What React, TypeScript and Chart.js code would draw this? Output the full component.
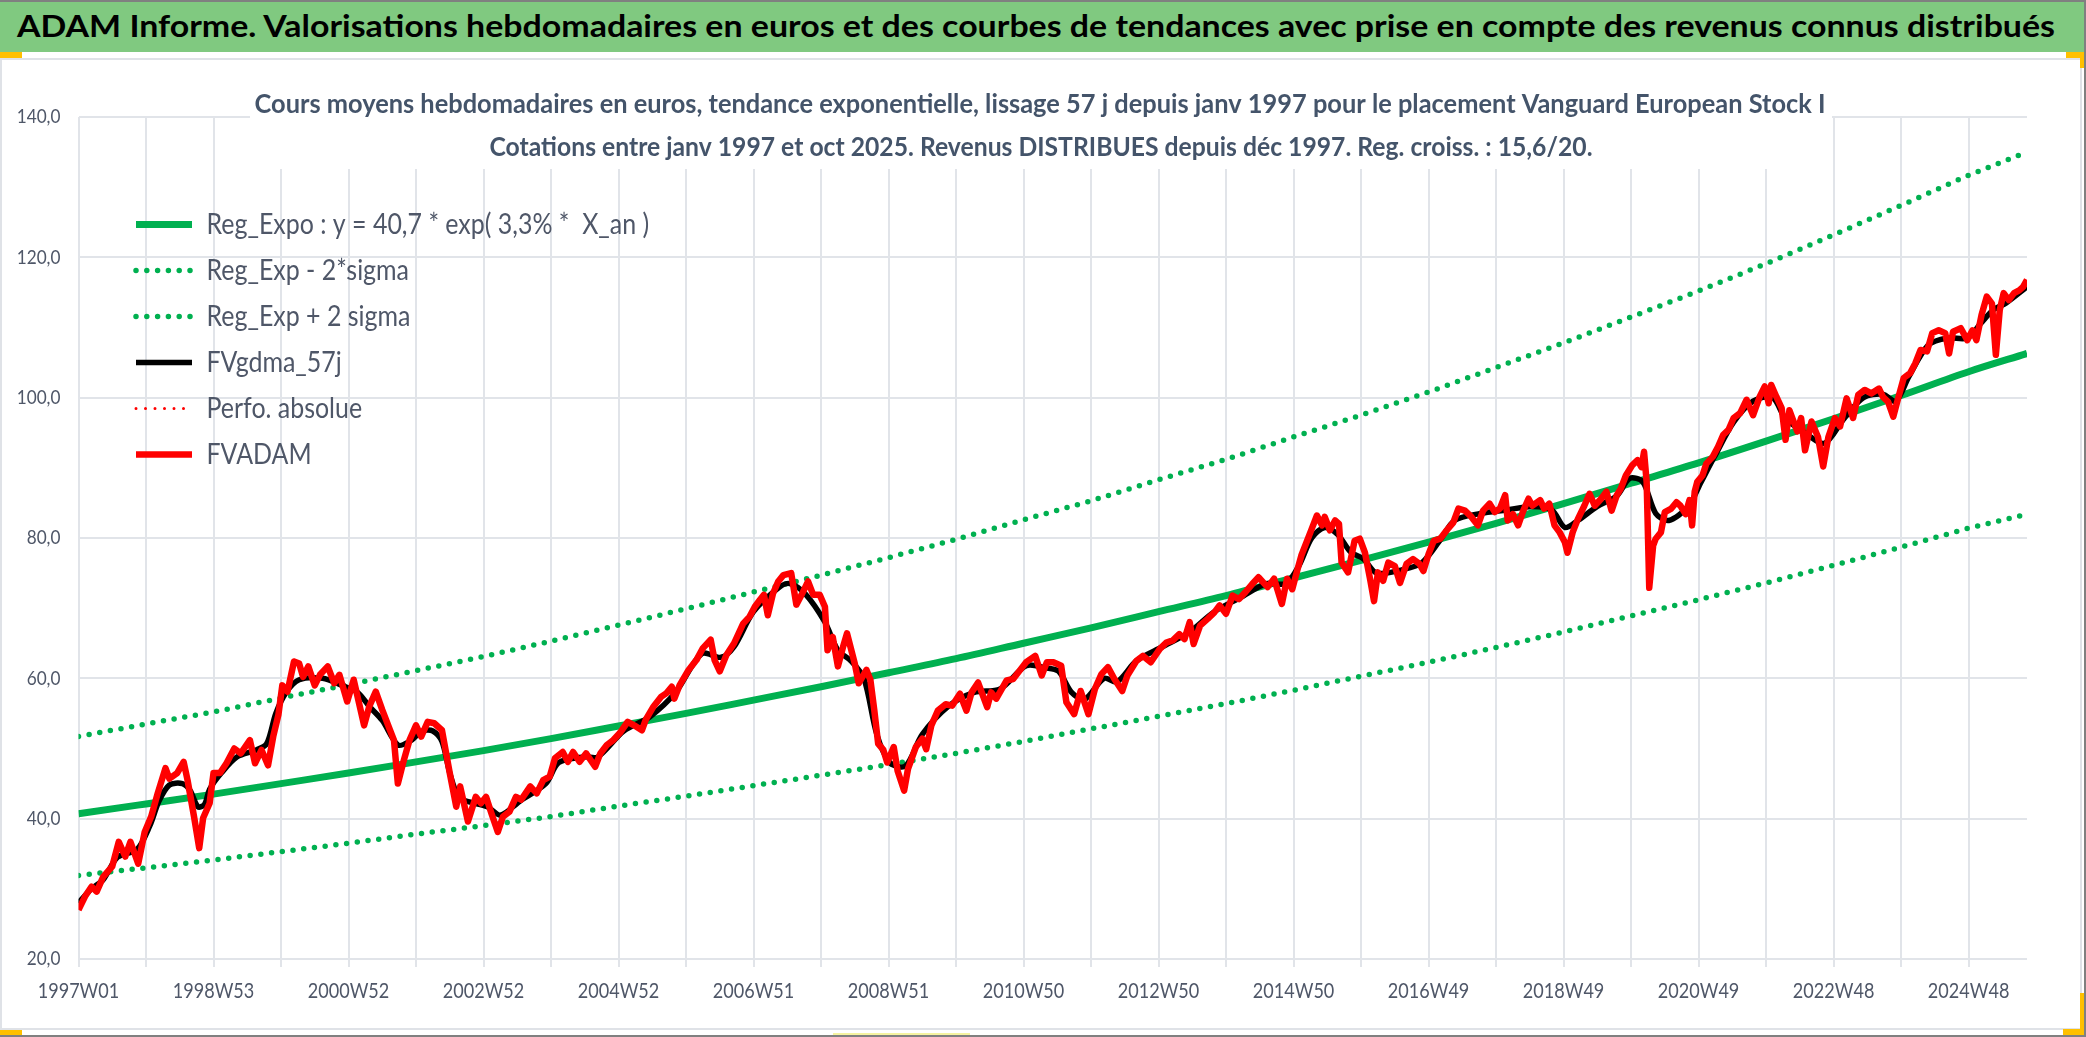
import React, { useEffect, useRef } from 'react';
import Chart from 'chart.js/auto';

const FONT = "Lato, 'Open Sans', sans-serif";
// the reference text is narrower than any installed face: every canvas text is squeezed horizontally
const SQUEEZE = 0.86;

const bannerTitle = 'ADAM Informe. Valorisations hebdomadaires en euros et des courbes de tendances avec prise en compte des revenus connus distribués';
const titleLines = [
    'Cours moyens hebdomadaires en euros, tendance exponentielle, lissage 57 j depuis janv 1997 pour le placement Vanguard European Stock I',
    'Cotations entre janv 1997 et oct 2025. Revenus DISTRIBUES depuis déc 1997. Reg. croiss. : 15,6/20.'
];

// one label every 104 weeks, starting at week index 0
const weekLabels = ['1997W01', '1998W53', '2000W52', '2002W52', '2004W52', '2006W51', '2008W51', '2010W50',
    '2012W50', '2014W50', '2016W49', '2018W49', '2020W49', '2022W48', '2024W48'];
const lastWeek = 1501;

const seriesNames = ['Reg_Expo : y = 40,7 * exp( 3,3% *  X_an )', 'Reg_Exp - 2*sigma', 'Reg_Exp + 2 sigma',
    'FVgdma_57j', 'Perfo. absolue', 'FVADAM'];

// trend curves read at each yearly gridline
const trendWeeks = [0, 52, 104, 156, 208, 260, 312, 364, 416, 468, 520, 572, 624, 676, 728, 780, 832, 884, 936, 988,
    1040, 1092, 1144, 1196, 1248, 1300, 1352, 1404, 1456, 1501];
const regExpo = [40.7, 42.1, 43.5, 45.0, 46.5, 48.1, 49.7, 51.4, 53.2, 55.0, 56.9, 58.8, 60.8, 62.8, 65.0, 67.2, 69.5,
    71.8, 74.3, 76.8, 79.4, 82.1, 84.9, 87.8, 90.7, 93.8, 97.0, 100.3, 103.7, 106.3];
const regMinus = [31.9, 33.0, 34.1, 35.3, 36.5, 37.8, 39.0, 40.3, 41.8, 43.2, 44.7, 46.2, 47.7, 49.3, 51.0, 52.8, 54.6,
    56.4, 58.3, 60.3, 62.3, 64.4, 66.6, 68.9, 71.2, 73.6, 76.1, 78.7, 81.4, 83.4];
const regPlus = [51.7, 53.5, 55.2, 57.2, 59.1, 61.1, 63.1, 65.3, 67.6, 69.9, 72.3, 74.7, 77.2, 79.8, 82.6, 85.3, 88.3,
    91.2, 94.4, 97.5, 100.8, 104.3, 107.8, 111.5, 115.2, 119.1, 123.2, 127.4, 131.7, 135.0];

// [week index, value]
const gdma: [number, number][] = [
    [0, 28.0], [10, 30.0], [19, 31.3], [30, 34.5], [45, 35.6], [55, 39.0], [62, 42.5], [70, 44.8], [80, 45.0], [86, 44.0],
    [92, 41.7], [97, 42.0], [101, 44.2], [110, 46.5], [122, 48.8], [137, 49.8], [145, 50.7], [152, 55.0], [160, 58.0],
    [170, 59.8], [188, 60.0], [203, 59.0], [215, 58.0], [224, 56.0], [234, 54.0], [246, 50.5], [255, 51.0], [265, 52.5],
    [273, 52.5], [280, 51.0], [286, 46.5], [293, 43.0], [301, 42.4], [315, 41.7], [325, 40.5], [340, 42.5], [360, 45.0],
    [370, 48.0], [390, 48.8], [400, 48.8], [420, 52.5], [440, 54.5], [460, 58.0], [480, 63.5], [495, 63.0], [505, 64.5],
    [520, 69.5], [540, 73.0], [548, 73.5], [560, 72.0], [575, 68.0], [585, 64.0], [595, 62.5], [605, 60.0], [615, 52.0],
    [625, 48.0], [637, 47.5], [650, 52.0], [670, 56.0], [690, 58.0], [710, 58.5], [730, 61.8], [745, 61.5], [755, 61.0],
    [765, 58.0], [775, 57.0], [790, 60.0], [800, 59.5], [815, 62.5], [835, 64.5], [855, 66.5], [875, 69.5], [895, 71.5],
    [915, 73.5], [930, 73.5], [940, 76.0], [950, 80.0], [960, 81.5], [970, 80.5], [980, 78.0], [990, 77.0], [1000, 75.0],
    [1020, 75.5], [1035, 76.5], [1050, 80.0], [1060, 82.5], [1080, 83.5], [1100, 84.0], [1120, 84.5], [1135, 84.0],
    [1145, 81.5], [1155, 82.5], [1170, 84.5], [1185, 86.0], [1195, 88.5], [1205, 88.0], [1215, 83.5], [1225, 82.5],
    [1240, 84.5], [1250, 88.0], [1260, 91.5], [1275, 96.5], [1290, 99.5], [1305, 100.0], [1315, 97.0], [1330, 95.0],
    [1345, 93.5], [1360, 97.0], [1375, 100.0], [1390, 100.5], [1400, 99.5], [1410, 103.0], [1425, 107.5], [1440, 108.5],
    [1455, 108.5], [1465, 110.5], [1475, 112.5], [1485, 113.5], [1501, 115.8]
];

const fvadam: [number, number][] = [
    [0, 27.0], [5, 28.9], [10, 30.3], [14, 29.6], [19, 31.7], [26, 33.2], [31, 36.7], [36, 34.6], [40, 36.7], [46, 33.6],
    [51, 38.1], [56, 40.3], [61, 43.6], [67, 47.2], [70, 45.7], [76, 46.5], [81, 48.1], [84, 45.5], [89, 40.3], [93, 35.8],
    [96, 40.1], [101, 42.2], [104, 46.5], [109, 46.5], [114, 47.9], [120, 50.0], [125, 49.3], [132, 51.2], [136, 47.9],
    [141, 49.8], [146, 47.6], [150, 51.7], [154, 54.8], [157, 59.0], [161, 58.1], [166, 62.4], [170, 62.1], [173, 60.2],
    [177, 61.7], [182, 59.0], [186, 60.5], [192, 61.7], [197, 59.3], [201, 60.5], [207, 56.7], [212, 59.8], [220, 53.3],
    [224, 56.0], [229, 58.1], [234, 55.5], [240, 52.6], [243, 51.2], [246, 45.0], [250, 47.9], [255, 51.2], [260, 53.3],
    [264, 51.7], [269, 53.8], [274, 53.6], [280, 52.6], [286, 46.5], [291, 41.7], [294, 44.6], [300, 39.6], [306, 43.1],
    [310, 42.2], [314, 43.1], [318, 40.8], [323, 38.1], [327, 40.3], [332, 41.0], [337, 43.1], [341, 42.7], [348, 44.6],
    [353, 43.6], [358, 45.5], [363, 46.0], [367, 48.6], [373, 49.5], [377, 48.1], [381, 49.5], [386, 48.1], [391, 49.3],
    [398, 47.4], [402, 49.3], [407, 50.5], [412, 51.2], [417, 52.2], [423, 53.8], [428, 53.3], [434, 52.6], [437, 54.1],
    [443, 56.0], [449, 57.4], [453, 57.9], [457, 58.8], [459, 57.1], [463, 59.0], [470, 61.2], [476, 62.6], [481, 64.3],
    [487, 65.5], [490, 62.6], [494, 61.0], [499, 63.3], [505, 65.0], [512, 67.8], [517, 68.8], [521, 70.2], [525, 71.2],
    [528, 71.9], [531, 69.0], [535, 72.1], [539, 73.8], [543, 74.7], [549, 75.0], [553, 70.5], [557, 71.9], [562, 73.8],
    [566, 71.9], [571, 71.9], [575, 70.2], [577, 64.0], [581, 65.9], [585, 61.7], [589, 64.5], [592, 66.4], [598, 62.1],
    [601, 59.3], [607, 61.2], [610, 59.8], [613, 55.5], [616, 50.7], [620, 49.8], [623, 48.0], [628, 50.2], [631, 46.8],
    [636, 44.0], [639, 47.1], [645, 50.2], [650, 51.4], [653, 49.9], [657, 53.3], [662, 55.4], [668, 56.3], [673, 56.1],
    [679, 57.8], [684, 55.4], [688, 58.0], [693, 59.4], [700, 55.9], [703, 58.0], [707, 57.1], [715, 59.7], [720, 59.9],
    [725, 61.1], [730, 62.3], [737, 63.2], [742, 60.4], [746, 62.3], [751, 62.3], [757, 61.8], [761, 56.6], [767, 54.9],
    [772, 58.2], [778, 54.9], [783, 58.5], [788, 60.6], [793, 61.6], [798, 59.9], [804, 58.2], [808, 60.4], [815, 62.5],
    [820, 63.2], [826, 62.3], [833, 64.2], [838, 65.1], [843, 65.4], [848, 66.3], [852, 65.6], [856, 68.0], [859, 64.9],
    [864, 67.5], [870, 68.5], [875, 69.4], [879, 70.4], [884, 69.2], [889, 71.8], [894, 71.3], [899, 72.3], [904, 73.4],
    [909, 74.4], [916, 73.0], [921, 74.2], [927, 70.6], [931, 74.2], [935, 72.7], [939, 75.5], [942, 77.5], [946, 79.4],
    [950, 81.3], [954, 83.2], [958, 81.8], [960, 83.0], [964, 81.1], [968, 82.5], [971, 82.0], [973, 76.5], [978, 75.1],
    [983, 79.6], [987, 79.9], [991, 77.9], [995, 74.1], [998, 71.0], [1001, 75.1], [1005, 73.9], [1009, 76.5], [1014, 76.0],
    [1018, 73.6], [1023, 76.3], [1028, 77.0], [1033, 76.3], [1036, 75.3], [1040, 77.7], [1044, 79.6], [1049, 79.9],
    [1054, 81.1], [1059, 82.2], [1063, 84.2], [1068, 83.9], [1073, 83.0], [1078, 81.8], [1082, 83.9], [1087, 84.9],
    [1091, 83.7], [1095, 84.2], [1099, 86.1], [1101, 82.5], [1105, 83.4], [1109, 81.8], [1113, 83.9], [1117, 85.6],
    [1120, 84.6], [1126, 85.4], [1129, 84.2], [1133, 84.9], [1137, 81.8], [1141, 80.8], [1145, 79.4], [1147, 77.9],
    [1151, 80.8], [1155, 82.7], [1160, 84.6], [1164, 86.3], [1168, 84.6], [1173, 85.6], [1177, 86.6], [1181, 83.9],
    [1185, 86.1], [1188, 87.0], [1192, 88.9], [1197, 90.4], [1201, 91.1], [1204, 90.1], [1206, 92.3], [1208, 88.0],
    [1210, 72.9], [1213, 78.9], [1215, 79.9], [1219, 80.8], [1222, 83.7], [1227, 84.2], [1231, 85.1], [1234, 84.6],
    [1238, 83.4], [1241, 85.4], [1243, 81.8], [1245, 86.6], [1247, 88.0], [1251, 88.9], [1254, 90.6], [1259, 91.6],
    [1263, 93.0], [1267, 94.7], [1271, 95.4], [1275, 97.1], [1280, 97.8], [1285, 99.7], [1290, 97.5], [1295, 100.1],
    [1299, 101.6], [1302, 99.2], [1304, 101.8], [1308, 100.1], [1312, 98.5], [1315, 94.0], [1318, 98.2], [1324, 95.2],
    [1327, 97.1], [1330, 92.5], [1335, 96.6], [1340, 94.4], [1344, 90.2], [1348, 94.4], [1353, 97.1], [1357, 95.9],
    [1362, 99.9], [1367, 97.1], [1371, 100.4], [1376, 101.1], [1381, 100.6], [1387, 101.3], [1390, 100.1], [1394, 99.4],
    [1398, 97.3], [1402, 100.1], [1406, 102.8], [1411, 103.5], [1415, 104.9], [1419, 106.8], [1424, 106.6], [1428, 109.2],
    [1433, 109.6], [1438, 109.2], [1441, 106.3], [1444, 109.4], [1450, 109.9], [1455, 108.2], [1459, 109.6], [1462, 108.2],
    [1466, 111.8], [1470, 114.4], [1474, 113.4], [1477, 106.1], [1480, 112.5], [1483, 114.9], [1487, 113.9], [1491, 114.9],
    [1495, 115.3], [1498, 115.8], [1501, 116.8]
];

const TEXT_COLOR = '#4f5768';
const GRID_COLOR = '#e1e4e9';

// chart title sits in a white box that covers the top of the plot grid
const boxTitle = {
    id: 'boxTitle',
    beforeDatasetsDraw(chart: Chart) {
        const ctx = chart.ctx;
        const lines = [
            { text: titleLines[0], x: 1040, y: 53, width: 1571 },
            { text: titleLines[1], x: 1041, y: 96, width: 1103 }
        ];
        ctx.save();
        ctx.fillStyle = '#ffffff';
        ctx.fillRect(250, 24, 1582, 85);
        ctx.fillStyle = '#44546A';
        ctx.textAlign = 'center';
        ctx.textBaseline = 'alphabetic';
        ctx.font = `bold 27px ${FONT}`;
        lines.forEach(line => {
            const w = ctx.measureText(line.text).width;
            ctx.save();
            ctx.translate(line.x, line.y);
            // fillText squeezes again, so divide it out
            ctx.scale(line.width / (w * SQUEEZE), 1);
            ctx.fillText(line.text, 0, 0);
            ctx.restore();
        });
        ctx.restore();
    }
};

// the legend is inside the plot, move it to its place
const legendPlace = {
    id: 'legendPlace',
    afterLayout(chart: Chart) {
        if (chart.legend) {
            chart.legend.left = 119;
            chart.legend.top = 133;
        }
    }
};

const App: React.FC = () => {
    const canvasRef = useRef<HTMLCanvasElement>(null);
    const bannerRef = useRef<HTMLSpanElement>(null);
    const chartRef = useRef<Chart>();

    useEffect(() => {
        document.body.style.margin = '0';

        if (bannerRef.current) {
            const w = bannerRef.current.getBoundingClientRect().width;
            bannerRef.current.style.transform = `scaleX(${2038 / w})`;
        }

        const canvas = canvasRef.current;
        if (!canvas) return;
        const ctx = canvas.getContext('2d');
        if (!ctx) return;

        if (chartRef.current) {
            chartRef.current.destroy();
        }

        // narrow every text drawn on this canvas
        const fill = ctx.fillText.bind(ctx);
        ctx.fillText = (text: string, x: number, y: number) => {
            ctx.save();
            ctx.translate(x, y);
            ctx.scale(SQUEEZE, 1);
            fill(text, 0, 0);
            ctx.restore();
        };

        Chart.defaults.font.family = FONT;

        const toPoints = (weeks: number[], values: number[]) => weeks.map((w, i) => ({ x: w, y: values[i] }));
        const pairs = (list: [number, number][]) => list.map(([x, y]) => ({ x, y }));

        chartRef.current = new Chart(ctx, {
            type: 'line',
            data: {
                datasets: [
                    {
                        label: seriesNames[0],
                        data: toPoints(trendWeeks, regExpo),
                        borderColor: '#00B050',
                        backgroundColor: '#00B050',
                        borderWidth: 7,
                        cubicInterpolationMode: 'monotone',
                        order: 6
                    },
                    {
                        label: seriesNames[1],
                        data: toPoints(trendWeeks, regMinus),
                        borderColor: '#00B050',
                        backgroundColor: '#00B050',
                        borderWidth: 5.5,
                        borderDash: [0, 10.8],
                        borderCapStyle: 'round',
                        order: 5
                    },
                    {
                        label: seriesNames[2],
                        data: toPoints(trendWeeks, regPlus),
                        borderColor: '#00B050',
                        backgroundColor: '#00B050',
                        borderWidth: 5.5,
                        borderDash: [0, 10.8],
                        borderCapStyle: 'round',
                        order: 4
                    },
                    {
                        label: seriesNames[3],
                        data: pairs(gdma),
                        borderColor: '#000000',
                        backgroundColor: '#000000',
                        borderWidth: 5.5,
                        tension: 0.3,
                        order: 3
                    },
                    {
                        label: seriesNames[4],
                        data: [],
                        borderColor: '#FF0000',
                        backgroundColor: '#FF0000',
                        borderWidth: 3,
                        borderDash: [0, 9.5],
                        borderCapStyle: 'round',
                        order: 2
                    },
                    {
                        label: seriesNames[5],
                        data: pairs(fvadam),
                        borderColor: '#FF0000',
                        backgroundColor: '#FF0000',
                        borderWidth: 6.5,
                        borderJoinStyle: 'round',
                        order: 1
                    }
                ]
            },
            options: {
                animation: false,
                responsive: false,
                events: [],
                elements: {
                    point: { radius: 0 }
                },
                layout: {
                    padding: { top: 57, right: 53, bottom: 0, left: 0 }
                },
                scales: {
                    x: {
                        type: 'linear',
                        min: 0,
                        max: lastWeek,
                        afterFit: (scale: any) => { scale.height = 69; },
                        grid: { color: GRID_COLOR, lineWidth: 2, tickLength: 8 },
                        border: { display: false },
                        ticks: {
                            stepSize: 52,
                            includeBounds: false,
                            autoSkip: false,
                            maxRotation: 0,
                            padding: 12,
                            color: TEXT_COLOR,
                            font: { family: FONT, size: 21 },
                            callback: (value: string | number) => {
                                const v = Number(value);
                                return v % 104 === 0 ? weekLabels[v / 104] : '';
                            }
                        }
                    },
                    y: {
                        min: 20,
                        max: 140,
                        afterFit: (scale: any) => { scale.width = 78.5; },
                        grid: { color: GRID_COLOR, lineWidth: 2, drawTicks: false },
                        border: { display: false },
                        ticks: {
                            stepSize: 20,
                            padding: 18,
                            color: TEXT_COLOR,
                            font: { family: FONT, size: 20 },
                            callback: (value: string | number) => Number(value).toFixed(1).replace('.', ',')
                        }
                    }
                },
                plugins: {
                    title: { display: false },
                    tooltip: { enabled: false },
                    legend: {
                        position: 'chartArea',
                        align: 'start',
                        labels: {
                            usePointStyle: true,
                            pointStyle: 'line',
                            pointStyleWidth: 56,
                            padding: 17,
                            color: TEXT_COLOR,
                            font: { family: FONT, size: 29 },
                            generateLabels: (chart: Chart) =>
                                Chart.defaults.plugins.legend.labels.generateLabels(chart).map((item: any) => {
                                    const ds: any = chart.data.datasets[item.datasetIndex];
                                    return {
                                        ...item,
                                        lineWidth: ds.borderWidth,
                                        lineDash: ds.borderDash || [],
                                        lineCap: ds.borderCapStyle || 'butt',
                                        strokeStyle: ds.borderColor
                                    };
                                }),
                            sort: (a: any, b: any) => a.datasetIndex - b.datasetIndex
                        }
                    }
                }
            } as any,
            plugins: [boxTitle, legendPlace]
        });

        return () => {
            if (chartRef.current) {
                chartRef.current.destroy();
            }
        };
    }, []);

    const yellow = '#FFC000';

    return (
        <div style={{ position: 'relative', width: 2086, height: 1037, background: '#ffffff', overflow: 'hidden', fontFamily: FONT }}>
            <div style={{ position: 'absolute', left: 0, top: 0, width: 2086, height: 52, background: '#80c980', borderTop: '2px solid #8c8c8c', boxSizing: 'border-box' }}>
                <span ref={bannerRef} style={{ position: 'absolute', left: 17, top: 1, fontSize: 31, lineHeight: '44px', fontWeight: 700, color: '#000000', whiteSpace: 'nowrap', transformOrigin: 'left center' }}>
                    {bannerTitle}
                </span>
            </div>
            <div style={{ position: 'absolute', left: 0, top: 58, width: 2082, height: 972, border: '2px solid #dfe2e7', boxSizing: 'border-box' }} />
            <canvas ref={canvasRef} width={2080} height={968} style={{ position: 'absolute', left: 0, top: 60 }} />
            <div style={{ position: 'absolute', left: 0, top: 52, width: 22, height: 6, background: yellow }} />
            <div style={{ position: 'absolute', left: 2066, top: 52, width: 20, height: 6, background: yellow }} />
            <div style={{ position: 'absolute', left: 2080, top: 52, width: 6, height: 16, background: yellow }} />
            <div style={{ position: 'absolute', left: 2080, top: 993, width: 5, height: 42, background: yellow }} />
            <div style={{ position: 'absolute', left: 2063, top: 1029, width: 22, height: 6, background: yellow }} />
            <div style={{ position: 'absolute', left: 0, top: 1030, width: 22, height: 5, background: yellow }} />
            <div style={{ position: 'absolute', left: 833, top: 1033, width: 137, height: 4, background: '#f6f3a0' }} />
            <div style={{ position: 'absolute', left: 0, top: 0, width: 2086, height: 1037, border: '2px solid #808080', borderLeft: 'none', boxSizing: 'border-box', pointerEvents: 'none' }} />
        </div>
    );
};

export default App;
